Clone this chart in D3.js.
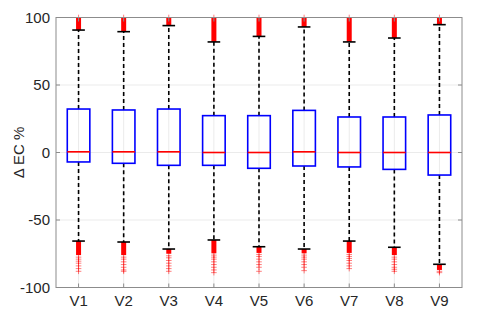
<!DOCTYPE html>
<html>
<head>
<meta charset="utf-8">
<script src="https://cdn.jsdelivr.net/npm/d3@7"></script>
<style>
  body { margin: 0; background: #fff; }
  text { font-family: "Liberation Sans", Arial, Helvetica, sans-serif; }
</style>
</head>
<body>
<div id="chart"></div>
<script>
// box statistics
var labels   = ["V1", "V2", "V3", "V4", "V5", "V6", "V7", "V8", "V9"]
var q1       = [-7.0, -8.0, -9.5, -9.5, -11.7, -10.0, -10.7, -12.5, -16.7]
var q3       = [32.2, 31.5, 32.2, 27.3, 27.3, 31.2, 26.3, 26.3, 27.8]
var medians  = [0.5, 0.5, 0.5, 0, 0, 0.5, 0, 0, 0]
var whiskLo  = [-65.6, -66.3, -71.5, -64.8, -69.8, -71.5, -65.6, -70.2, -82.8]
var whiskHi  = [90.7, 89.5, 94.0, 81.9, 86.0, 93.0, 81.9, 84.8, 94.7]
// dense runs of outliers (they overlap into a solid column)
var denseHiEnd = [100, 100, 100, 100, 100, 100, 100, 100, 100]
var denseLoEnd = [-76, -76, -75, -74.7, -74.4, -74.7, -74.4, -76, -87]
// loose outliers below the dense run
var sparseLo = [
  [-77.5, -79, -80.5, -82, -84, -86, -88],
  [-77.5, -79, -81, -83, -85, -87, -88],
  [-76.5, -78, -80, -82, -84, -86, -88],
  [-76, -77.5, -79, -81, -83, -85, -87, -89],
  [-75.5, -77, -79, -81, -83, -85, -88],
  [-76, -77.5, -79, -81, -83, -85, -87.5],
  [-75.5, -77, -78.5, -80, -82, -84, -86],
  [-77.5, -79, -81, -83, -85, -86.5, -88],
  [-88, -89]
]
var yTicks = [-100, -50, 0, 50, 100]

var W = 480, H = 319
var mLeft = 56, mRight = 462, mTop = 17.5, mBottom = 287.5

var svg = d3.select("#chart").append("svg")
  .attr("width", W)
  .attr("height", H)

var x = d3.scaleLinear().domain([0.5, 9.5]).range([mLeft, mRight])
var y = d3.scaleLinear().domain([-100, 100]).range([mBottom, mTop])

var idx = d3.range(labels.length)

// grid
svg.append("g").selectAll("line").data(yTicks).enter().append("line")
  .attr("x1", mLeft).attr("x2", mRight)
  .attr("y1", function(d) { return y(d) }).attr("y2", function(d) { return y(d) })
  .style("stroke", "#ebebeb").style("stroke-width", 1)
svg.append("g").selectAll("line").data(idx).enter().append("line")
  .attr("x1", function(i) { return x(i + 1) }).attr("x2", function(i) { return x(i + 1) })
  .attr("y1", mTop).attr("y2", mBottom)
  .style("stroke", "#ebebeb").style("stroke-width", 1)

var plot = svg.append("g")
var bw = x(1.25) - x(1)   // half box width (MATLAB width 0.5)
var cw = x(1.14) - x(1)   // half cap width

// whiskers
plot.selectAll(".wh").data(idx).enter().append("line")
  .attr("x1", function(i) { return x(i + 1) }).attr("x2", function(i) { return x(i + 1) })
  .attr("y1", function(i) { return y(q3[i]) }).attr("y2", function(i) { return y(whiskHi[i]) })
  .style("stroke", "#000").style("stroke-width", 1.6).style("stroke-dasharray", "4,3")
plot.selectAll(".wl").data(idx).enter().append("line")
  .attr("x1", function(i) { return x(i + 1) }).attr("x2", function(i) { return x(i + 1) })
  .attr("y1", function(i) { return y(q1[i]) }).attr("y2", function(i) { return y(whiskLo[i]) })
  .style("stroke", "#000").style("stroke-width", 1.6).style("stroke-dasharray", "4,3")

// outliers: dense runs
var ow = 2.5
plot.selectAll(".dh").data(idx).enter().append("rect")
  .attr("x", function(i) { return x(i + 1) - ow })
  .attr("width", ow * 2)
  .attr("y", function(i) { return y(denseHiEnd[i]) })
  .attr("height", function(i) { return y(whiskHi[i]) - y(denseHiEnd[i]) })
  .style("fill", "#ff0000")
plot.selectAll(".dl").data(idx).enter().append("rect")
  .attr("x", function(i) { return x(i + 1) - ow })
  .attr("width", ow * 2)
  .attr("y", function(i) { return y(whiskLo[i]) })
  .attr("height", function(i) { return y(denseLoEnd[i]) - y(whiskLo[i]) })
  .style("fill", "#ff0000")

// outliers: loose plus markers
var pts = []
idx.forEach(function(i) {
  sparseLo[i].forEach(function(v) { pts.push({i: i, v: v}) })
  pts.push({i: i, v: denseHiEnd[i]})
})
plot.selectAll(".pl").data(pts).enter().append("path")
  .attr("d", function(d) {
    var cx = x(d.i + 1), cy = y(d.v), s = 2.8
    return "M" + (cx - s) + "," + cy + "H" + (cx + s) + "M" + cx + "," + (cy - s) + "V" + (cy + s)
  })
  .style("stroke", "#ff0000").style("stroke-width", 1).style("opacity", 0.5).style("fill", "none")

// whisker caps
plot.selectAll(".ch").data(idx).enter().append("line")
  .attr("x1", function(i) { return x(i + 1) - cw }).attr("x2", function(i) { return x(i + 1) + cw })
  .attr("y1", function(i) { return y(whiskHi[i]) }).attr("y2", function(i) { return y(whiskHi[i]) })
  .style("stroke", "#000").style("stroke-width", 1.6)
plot.selectAll(".cl").data(idx).enter().append("line")
  .attr("x1", function(i) { return x(i + 1) - cw }).attr("x2", function(i) { return x(i + 1) + cw })
  .attr("y1", function(i) { return y(whiskLo[i]) }).attr("y2", function(i) { return y(whiskLo[i]) })
  .style("stroke", "#000").style("stroke-width", 1.6)

// boxes
plot.selectAll(".bx").data(idx).enter().append("rect")
  .attr("x", function(i) { return x(i + 1) - bw })
  .attr("width", bw * 2)
  .attr("y", function(i) { return y(q3[i]) })
  .attr("height", function(i) { return y(q1[i]) - y(q3[i]) })
  .style("fill", "none").style("stroke", "#0000ff").style("stroke-width", 1.6)

// medians
plot.selectAll(".md").data(idx).enter().append("line")
  .attr("x1", function(i) { return x(i + 1) - bw }).attr("x2", function(i) { return x(i + 1) + bw })
  .attr("y1", function(i) { return y(medians[i]) }).attr("y2", function(i) { return y(medians[i]) })
  .style("stroke", "#ff0000").style("stroke-width", 1.6)

// axes frame
svg.append("rect")
  .attr("x", mLeft).attr("y", mTop)
  .attr("width", mRight - mLeft).attr("height", mBottom - mTop)
  .style("fill", "none").style("stroke", "#8c8c8c").style("stroke-width", 1)

// y ticks (inward, both sides)
svg.append("g").selectAll("path").data(yTicks).enter().append("path")
  .attr("d", function(d) {
    return "M" + mLeft + "," + y(d) + "h4M" + mRight + "," + y(d) + "h-4"
  })
  .style("stroke", "#8c8c8c").style("stroke-width", 1)
// x ticks
svg.append("g").selectAll("path").data(idx).enter().append("path")
  .attr("d", function(i) {
    return "M" + x(i + 1) + "," + mBottom + "v-4M" + x(i + 1) + "," + mTop + "v4"
  })
  .style("stroke", "#8c8c8c").style("stroke-width", 1)

svg.append("g").selectAll("text").data(yTicks).enter().append("text")
  .attr("x", mLeft - 6)
  .attr("y", function(d) { return y(d) })
  .attr("dy", "0.36em")
  .attr("text-anchor", "end")
  .style("font-size", "15px").style("fill", "#262626")
  .text(function(d) { return d })

svg.append("g").selectAll("text").data(idx).enter().append("text")
  .attr("x", function(i) { return x(i + 1) })
  .attr("y", mBottom + 18)
  .attr("text-anchor", "middle")
  .style("font-size", "15px").style("fill", "#262626")
  .text(function(i) { return labels[i] })

svg.append("text")
  .attr("transform", "translate(24," + y(0) + ") rotate(-90)")
  .attr("text-anchor", "middle")
  .style("font-size", "15px").style("fill", "#262626")
  .text("Δ EC %")
</script>
</body>
</html>
